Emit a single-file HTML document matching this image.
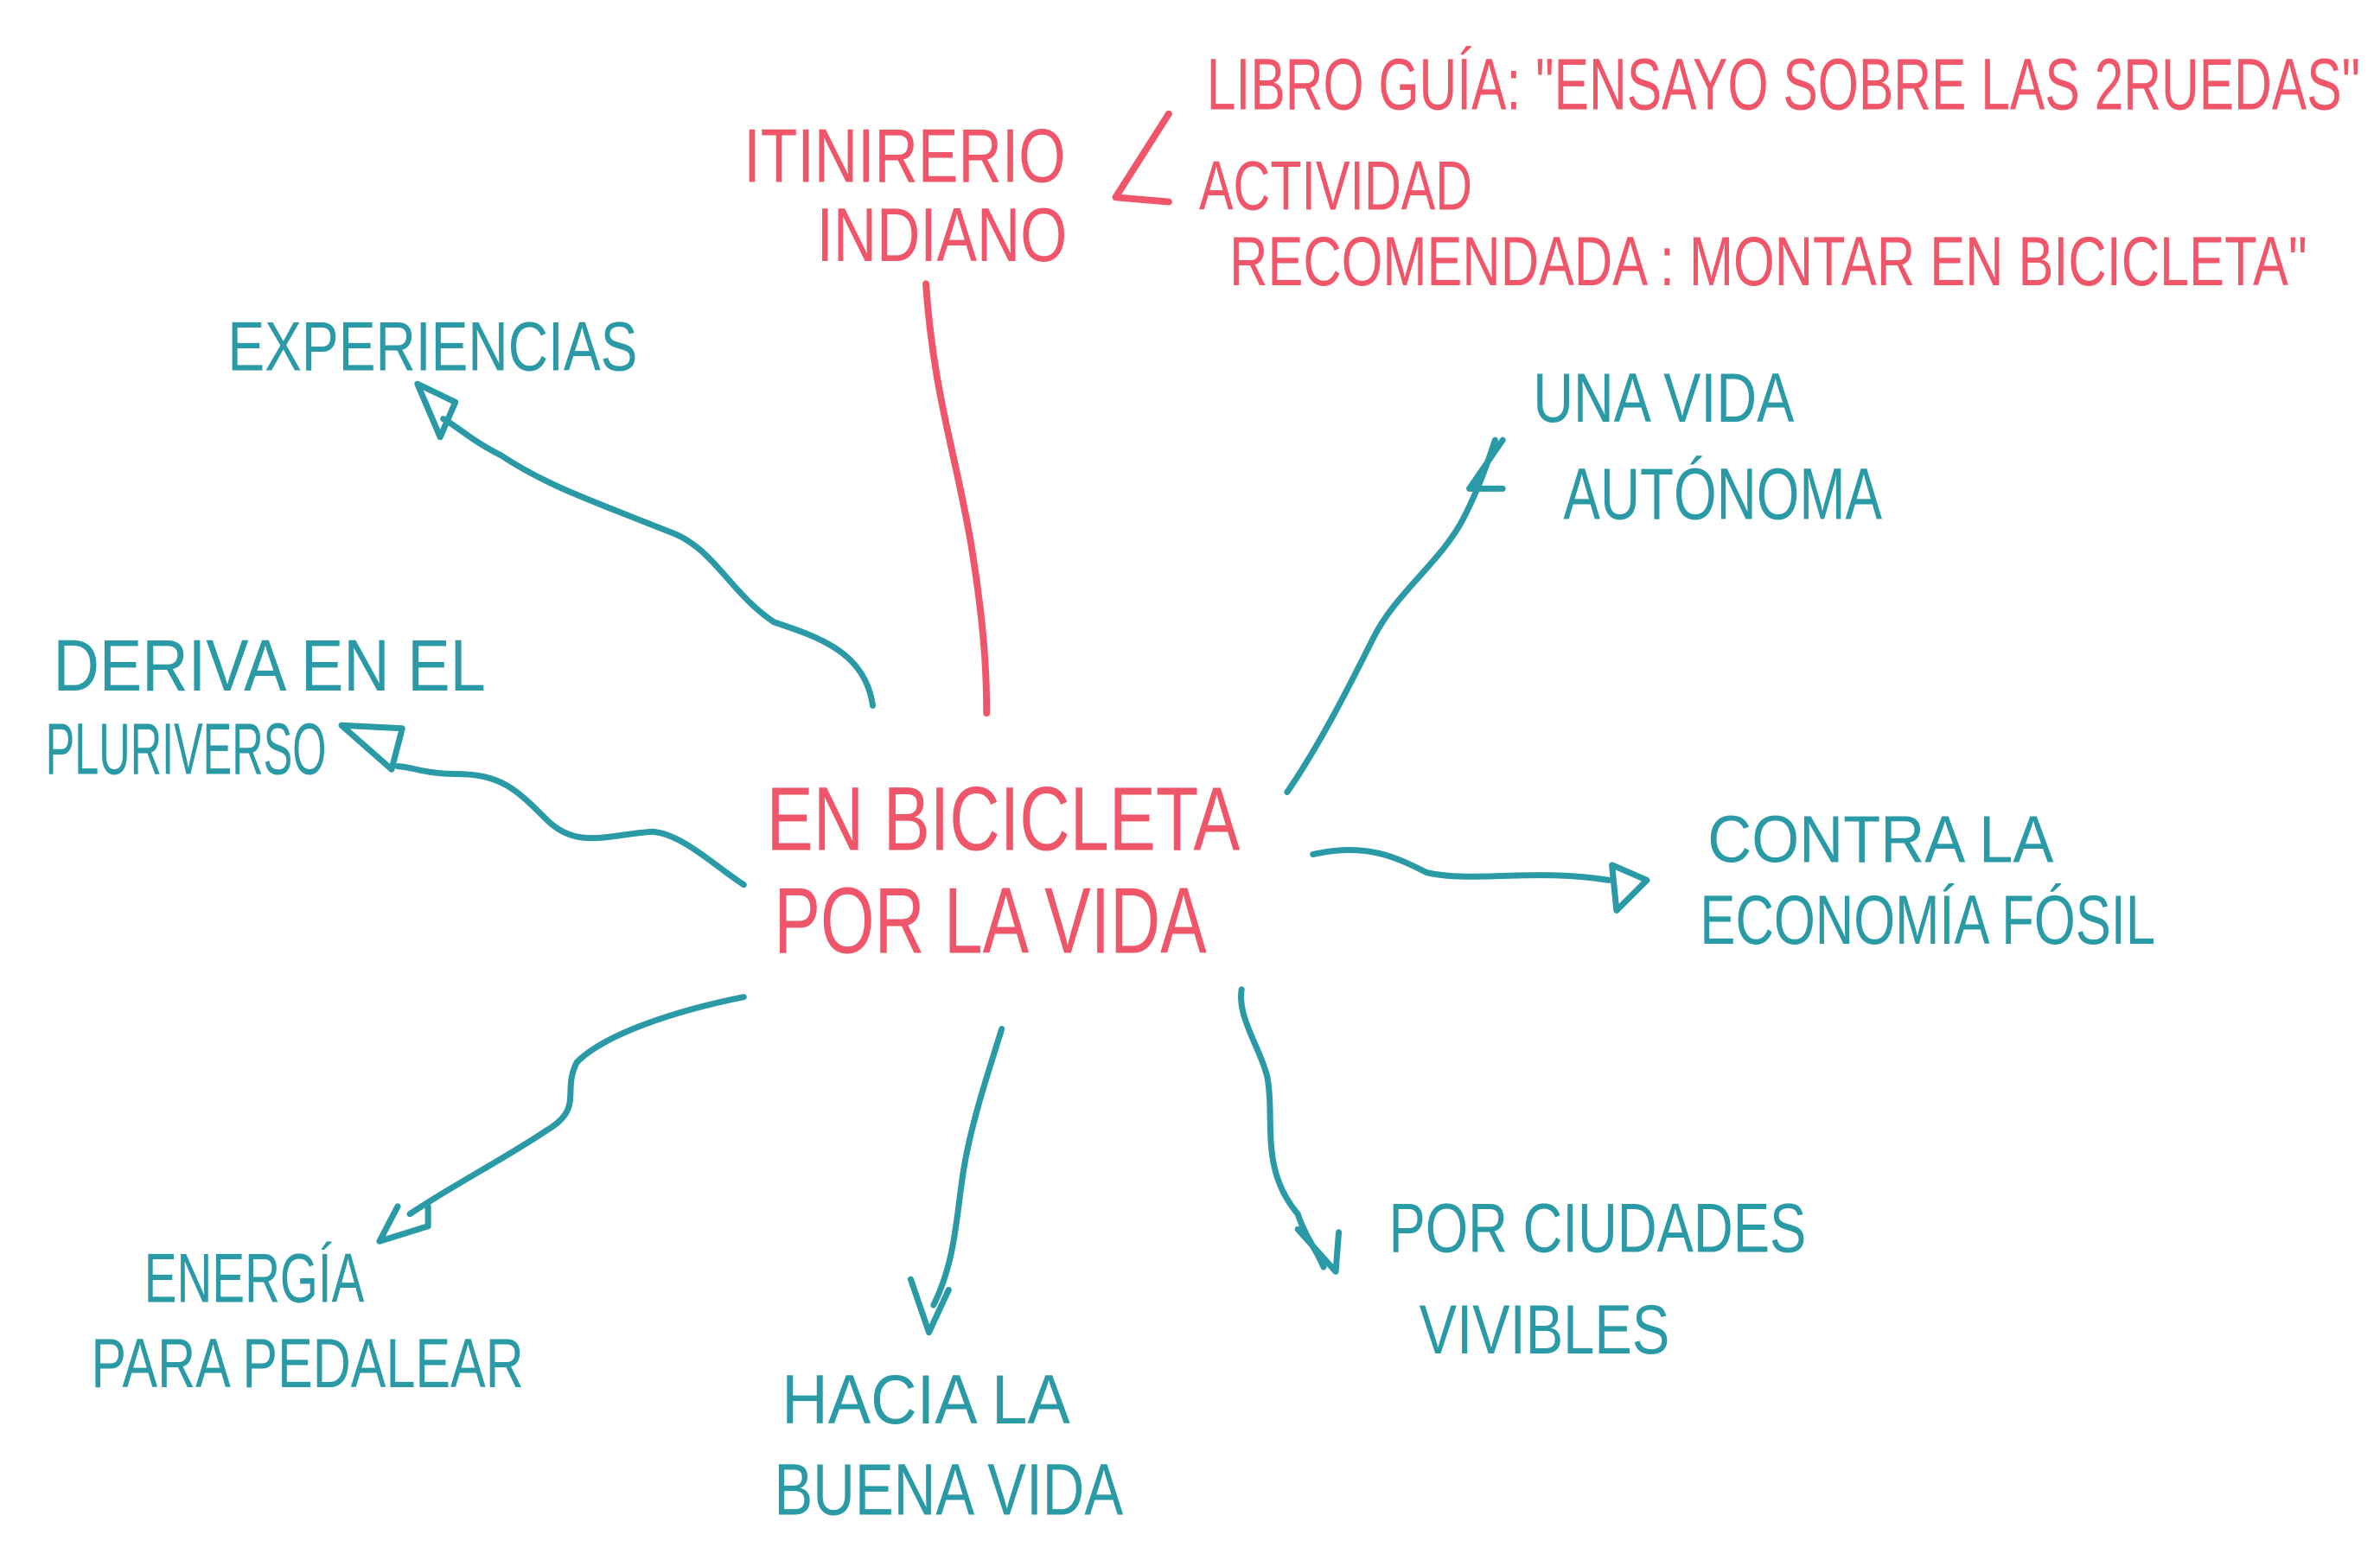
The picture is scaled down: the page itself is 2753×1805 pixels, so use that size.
<!DOCTYPE html>
<html><head><meta charset="utf-8"><style>
html,body{margin:0;padding:0;background:#fff;}
svg{display:block}
text{font-family:"Liberation Sans",sans-serif;font-weight:normal;}
.r{fill:#f0566a}
.t{fill:#2a9aa6}
.lr{stroke:#f0566a;fill:none;stroke-width:4.5;stroke-linecap:round;stroke-linejoin:round}
.lt{stroke:#2a9aa6;fill:none;stroke-width:4;stroke-linecap:round;stroke-linejoin:round}
</style></head><body>
<svg width="2753" height="1805" viewBox="0 0 1568 1028" preserveAspectRatio="none" xmlns="http://www.w3.org/2000/svg">
<rect width="1568" height="1028" fill="#fff"/>
<!-- red texts -->
<text class="r" x="490" y="120" font-size="50" textLength="212" lengthAdjust="spacingAndGlyphs">ITINIRERIO</text>
<text class="r" x="538" y="172" font-size="50" textLength="165" lengthAdjust="spacingAndGlyphs">INDIANO</text>
<path class="lr" d="M770 75 L735 130 L770 133"/>
<text class="r" x="795" y="72" font-size="48" textLength="760" lengthAdjust="spacingAndGlyphs">LIBRO GUÍA: "ENSAYO SOBRE LAS 2RUEDAS"</text>
<text class="r" x="790" y="138" font-size="46" textLength="180" lengthAdjust="spacingAndGlyphs">ACTIVIDAD</text>
<text class="r" x="810" y="188" font-size="46" textLength="710" lengthAdjust="spacingAndGlyphs">RECOMENDADA : MONTAR EN BICICLETA"</text>
<text class="r" x="505" y="560" font-size="60" textLength="312" lengthAdjust="spacingAndGlyphs">EN BICICLETA</text>
<text class="r" x="510" y="628" font-size="62" textLength="285" lengthAdjust="spacingAndGlyphs">POR LA VIDA</text>
<path class="lr" d="M610 187 C615 260 630 300 640 360 C648 410 650 440 650 470"/>
<!-- teal texts -->
<text class="t" x="150" y="244" font-size="46" textLength="270" lengthAdjust="spacingAndGlyphs">EXPERIENCIAS</text>
<text class="t" x="1010" y="278" font-size="46" textLength="172" lengthAdjust="spacingAndGlyphs">UNA VIDA</text>
<text class="t" x="1030" y="342" font-size="48" textLength="210" lengthAdjust="spacingAndGlyphs">AUTÓNOMA</text>
<text class="t" x="35" y="455" font-size="48" textLength="285" lengthAdjust="spacingAndGlyphs">DERIVA EN EL</text>
<text class="t" x="30" y="510" font-size="48" textLength="185" lengthAdjust="spacingAndGlyphs">PLURIVERSO</text>
<text class="t" x="1125" y="568" font-size="44" textLength="228" lengthAdjust="spacingAndGlyphs">CONTRA LA</text>
<text class="t" x="1120" y="622" font-size="46" textLength="300" lengthAdjust="spacingAndGlyphs">ECONOMÍA FÓSIL</text>
<text class="t" x="95" y="858" font-size="46" textLength="145" lengthAdjust="spacingAndGlyphs">ENERGÍA</text>
<text class="t" x="60" y="914" font-size="46" textLength="285" lengthAdjust="spacingAndGlyphs">PARA PEDALEAR</text>
<text class="t" x="515" y="938" font-size="46" textLength="190" lengthAdjust="spacingAndGlyphs">HACIA LA</text>
<text class="t" x="510" y="998" font-size="48" textLength="230" lengthAdjust="spacingAndGlyphs">BUENA VIDA</text>
<text class="t" x="915" y="825" font-size="46" textLength="275" lengthAdjust="spacingAndGlyphs">POR CIUDADES</text>
<text class="t" x="935" y="892" font-size="46" textLength="165" lengthAdjust="spacingAndGlyphs">VIVIBLES</text>
<!-- teal connectors -->
<path class="lt" d="M575 465 C570 430 540 420 510 410 C480 390 470 360 440 350 C390 330 360 320 330 300 C310 290 300 280 292 276"/>
<path class="lt" d="M275 253 L300 265 L290 288 Z"/>
<path class="lt" d="M490 583 C470 570 450 550 430 548 C400 550 380 560 360 540 C340 520 330 510 300 510 C280 510 270 505 262 505"/>
<path class="lt" d="M225 478 L265 480 L258 507 Z"/>
<path class="lt" d="M848 522 C870 490 890 450 905 420 C920 390 950 370 965 340 C975 320 980 305 985 290"/>
<path class="lt" d="M990 290 L968 322 L990 322"/>
<path class="lt" d="M865 563 C900 555 920 565 940 575 C970 582 1010 572 1060 580"/>
<path class="lt" d="M1062 570 L1085 580 L1065 600 Z"/>
<path class="lt" d="M490 657 C450 665 400 680 380 700 C370 720 385 730 360 745 C330 765 300 780 270 800"/>
<path class="lt" d="M262 795 L250 818 L282 808 L282 795"/>
<path class="lt" d="M660 678 C650 710 640 740 635 770 C630 800 630 830 615 860"/>
<path class="lt" d="M600 843 L612 878 L625 850"/>
<path class="lt" d="M818 652 C815 670 830 690 835 710 C840 740 830 770 855 800 C860 815 868 825 872 835"/>
<path class="lt" d="M855 810 L880 838 L882 812"/>
</svg>
</body></html>
